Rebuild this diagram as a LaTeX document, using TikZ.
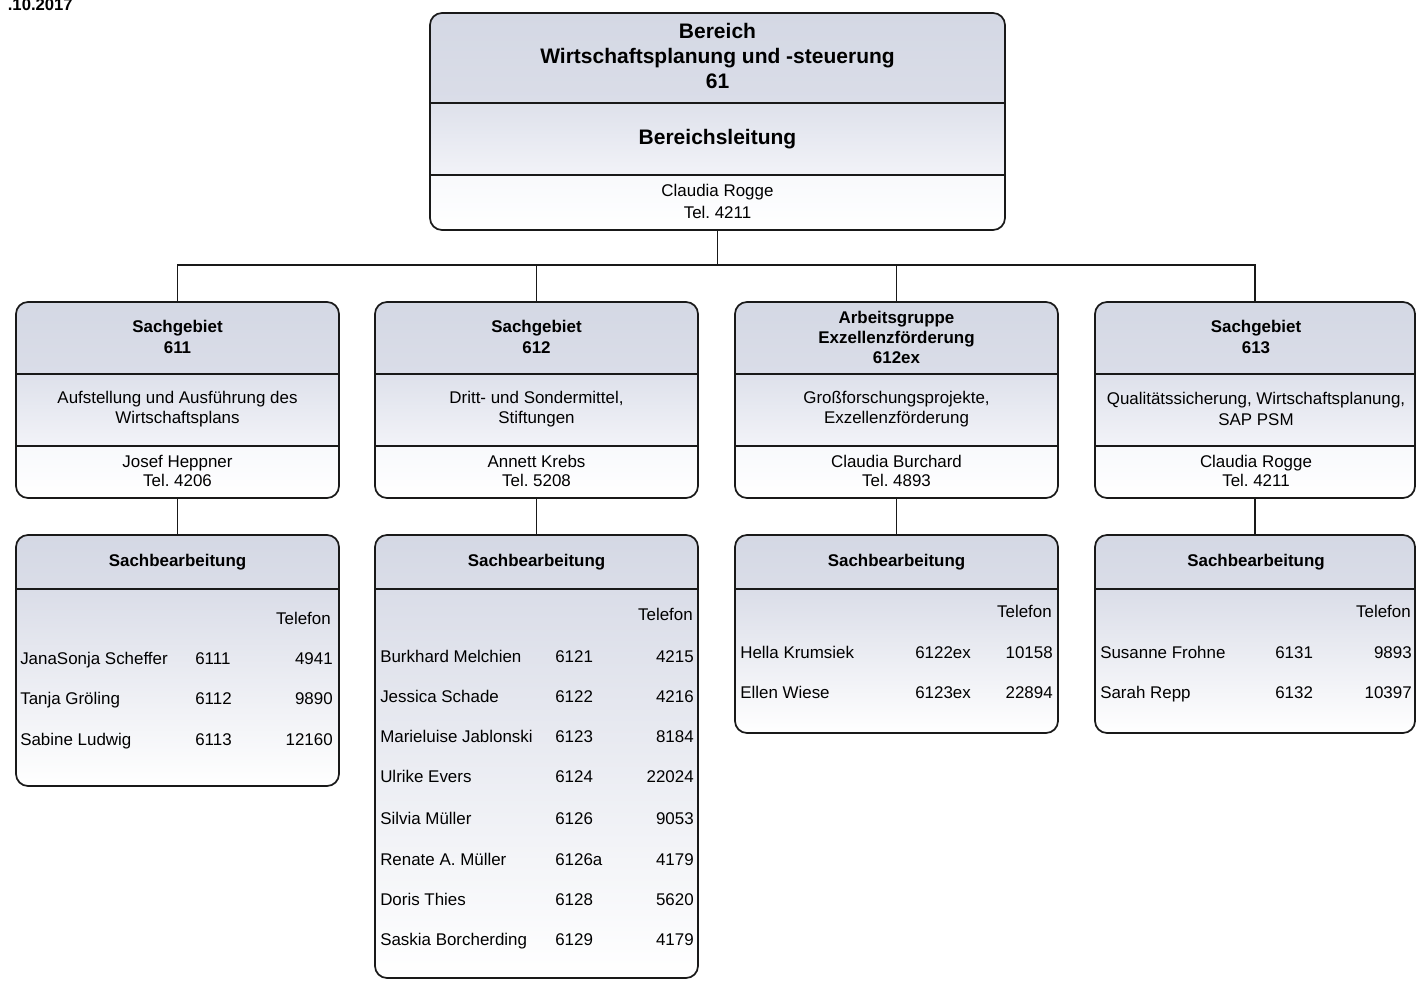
\documentclass[tikz,border=0pt]{standalone}
\usepackage{fontspec}
\setmainfont{Liberation Sans}
\usetikzlibrary{calc}
\frenchspacing
\definecolor{hdrTop}{RGB}{212,216,228}
\definecolor{hdrBot}{RGB}{218,221,232}
\definecolor{midTop}{RGB}{222,225,235}
\definecolor{midBot}{RGB}{242,243,248}
\definecolor{lowTop}{RGB}{248,249,252}
\definecolor{tabTop}{RGB}{218,221,232}
\definecolor{linecol}{RGB}{25,25,25}
\tikzset{
  frame/.style={draw=linecol, line width=1.3pt, rounded corners=9pt, inner sep=0pt},
  conn/.style={draw=linecol, line width=1pt},
  divider/.style={draw=linecol, line width=1.1pt},
  ttl/.style={font=\fontsize{15.75pt}{18.75pt}\selectfont\bfseries, align=center, inner sep=0pt},
  hdr/.style={font=\fontsize{12.7pt}{16pt}\selectfont\bfseries, align=center, inner sep=0pt},
  hdrtight/.style={font=\fontsize{12.7pt}{15pt}\selectfont\bfseries, align=center, inner sep=0pt},
  txt/.style={font=\fontsize{12.7pt}{15.5pt}\selectfont, align=center, inner sep=0pt},
  cell/.style={font=\fontsize{12.7pt}{15pt}\selectfont, inner sep=0pt},
}
% box with three sections: #1 name, #2 x1, #3 y1, #4 x2, #5 y2, #6 d1, #7 d2
\newcommand{\threebox}[7]{%
  \begin{scope}
    \clip[rounded corners=9pt] (#2,#3) rectangle (#4,#5);
    \shade[top color=hdrTop, bottom color=hdrBot] (#2,#3) rectangle (#4,#6);
    \shade[top color=midTop, bottom color=midBot] (#2,#6) rectangle (#4,#7);
    \shade[top color=lowTop, bottom color=white] (#2,#7) rectangle (#4,#5);
  \end{scope}
  \draw[divider] (#2,#6) -- (#4,#6);
  \draw[divider] (#2,#7) -- (#4,#7);
  \node[frame, minimum width={(#4-#2)*0.75pt}, minimum height={(#5-#3)*0.75pt}] (#1) at ({(#2+#4)/2},{(#3+#5)/2}) {};
}
% table box: #1 name, #2 x1, #3 y1, #4 x2, #5 y2, #6 d1
\newcommand{\tabbox}[6]{%
  \begin{scope}
    \clip[rounded corners=9pt] (#2,#3) rectangle (#4,#5);
    \shade[top color=hdrTop, bottom color=hdrBot] (#2,#3) rectangle (#4,#6);
    \shade[top color=tabTop, bottom color=white] (#2,#6) rectangle (#4,#5);
  \end{scope}
  \draw[divider] (#2,#6) -- (#4,#6);
  \node[frame, minimum width={(#4-#2)*0.75pt}, minimum height={(#5-#3)*0.75pt}] (#1) at ({(#2+#4)/2},{(#3+#5)/2}) {};
}
\begin{document}
\begin{tikzpicture}[x=0.75pt, y=-0.75pt]
\useasboundingbox (0,0) rectangle (1416,981);
\fill[white] (0,0) rectangle (1416,981);

\node[font=\fontsize{12.5pt}{14pt}\selectfont\bfseries, anchor=mid east, inner sep=0pt] (date) at (73,7) {.10.2017};

% top box
\threebox{top}{430}{13}{1005}{230}{103}{175}
\node[ttl] (topT) at (717.5,56) {Bereich\\Wirtschaftsplanung und -steuerung\\61};
\node[ttl] (topM) at (717.5,139) {Bereichsleitung};
\node[txt, font=\fontsize{12.7pt}{16.5pt}\selectfont] (topP) at (717.5,201) {Claudia Rogge\\Tel. 4211};

% level 2 boxes
\threebox{s611}{16}{302}{339}{498}{374}{446}
\threebox{s612}{375}{302}{698}{498}{374}{446}
\threebox{s612ex}{735}{302}{1058}{498}{374}{446}
\threebox{s613}{1095}{302}{1415}{498}{374}{446}

\node[hdr] (h611) at (177.5,337) {Sachgebiet\\611};
\node[hdr] (h612) at (536.5,337) {Sachgebiet\\612};
\node[hdrtight] (h612ex) at (896.5,337) {Arbeitsgruppe\\Exzellenzförderung\\612ex};
\node[hdr] (h613) at (1256,337) {Sachgebiet\\613};

\node[txt] (m611) at (177.5,409) {Aufstellung und Ausführung des\\Wirtschaftsplans};
\node[txt] (m612) at (536.5,409) {Dritt- und Sondermittel,\\Stiftungen};
\node[txt] (m612ex) at (896.5,409) {Großforschungsprojekte,\\Exzellenzförderung};
\node[txt] (m613) at (1256,409) {Qualitätssicherung, Wirtschaftsplanung,\\SAP PSM};

\node[txt, font=\fontsize{12.7pt}{14.5pt}\selectfont] (p611) at (177.5,471) {Josef Heppner\\Tel. 4206};
\node[txt, font=\fontsize{12.7pt}{14.5pt}\selectfont] (p612) at (536.5,471) {Annett Krebs\\Tel. 5208};
\node[txt, font=\fontsize{12.7pt}{14.5pt}\selectfont] (p612ex) at (896.5,471) {Claudia Burchard\\Tel. 4893};
\node[txt, font=\fontsize{12.7pt}{14.5pt}\selectfont] (p613) at (1256,471) {Claudia Rogge\\Tel. 4211};

% level 3 boxes
\tabbox{t611}{16}{535}{339}{786}{589}
\tabbox{t612}{375}{535}{698}{978}{589}
\tabbox{t612ex}{735}{535}{1058}{733}{589}
\tabbox{t613}{1095}{535}{1415}{733}{589}

\node[hdr] (th611) at (177.5,562) {Sachbearbeitung};
\node[hdr] (th612) at (536.5,562) {Sachbearbeitung};
\node[hdr] (th612ex) at (896.5,562) {Sachbearbeitung};
\node[hdr] (th613) at (1256,562) {Sachbearbeitung};

% connectors
\coordinate (bus) at (717.5,265);
\draw[conn] (top.south) -- (bus);
\draw[conn] (bus) -| (s611.north);
\draw[conn] (bus) -| (s612.north);
\draw[conn] (bus) -| (s612ex.north);
\draw[conn] (bus) -| (s613.north);
\draw[conn] (s611.south) -- (t611.north);
\draw[conn] (s612.south) -- (t612.north);
\draw[conn] (s612ex.south) -- (t612ex.north);
\draw[conn] (s613.south) -- (t613.north);

% table 611
\node[cell, anchor=mid east] (tel611) at (331,621) {Telefon};
\foreach \n/\c/\p/\y [count=\i] in {JanaSonja Scheffer/6111/4941/661, Tanja Gröling/6112/9890/701, Sabine Ludwig/6113/12160/742}{
  \node[cell, anchor=mid west] (n611-\i) at (20,\y) {\n};
  \node[cell, anchor=mid west] (c611-\i) at (195,\y) {\c};
  \node[cell, anchor=mid east] (f611-\i) at (333,\y) {\p};
}
% table 612
\node[cell, anchor=mid east] (tel612) at (693,617) {Telefon};
\foreach \n/\c/\p/\y [count=\i] in {Burkhard Melchien/6121/4215/659, Jessica Schade/6122/4216/699, Marieluise Jablonski/6123/8184/739, Ulrike Evers/6124/22024/779, Silvia Müller/6126/9053/821, Renate A. Müller/6126a/4179/862, Doris Thies/6128/5620/902, Saskia Borcherding/6129/4179/942}{
  \node[cell, anchor=mid west] (n612-\i) at (380,\y) {\n};
  \node[cell, anchor=mid west] (c612-\i) at (555,\y) {\c};
  \node[cell, anchor=mid east] (f612-\i) at (694,\y) {\p};
}
% table 612ex
\node[cell, anchor=mid east] (tel612ex) at (1052,614) {Telefon};
\foreach \n/\c/\p/\y [count=\i] in {Hella Krumsiek/6122ex/10158/655, Ellen Wiese/6123ex/22894/695}{
  \node[cell, anchor=mid west] (n612ex-\i) at (740,\y) {\n};
  \node[cell, anchor=mid west] (c612ex-\i) at (915,\y) {\c};
  \node[cell, anchor=mid east] (f612ex-\i) at (1053,\y) {\p};
}
% table 613
\node[cell, anchor=mid east] (tel613) at (1411,614) {Telefon};
\foreach \n/\c/\p/\y [count=\i] in {Susanne Frohne/6131/9893/655, Sarah Repp/6132/10397/695}{
  \node[cell, anchor=mid west] (n613-\i) at (1100,\y) {\n};
  \node[cell, anchor=mid west] (c613-\i) at (1275,\y) {\c};
  \node[cell, anchor=mid east] (f613-\i) at (1412,\y) {\p};
}
\end{tikzpicture}
\end{document}
